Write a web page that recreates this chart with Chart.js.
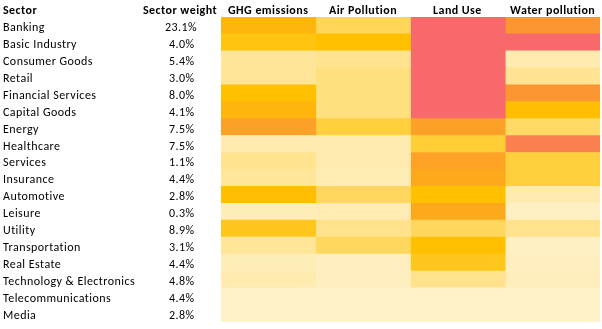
<!DOCTYPE html>
<html>
<head>
<meta charset="utf-8">
<script src="https://cdn.jsdelivr.net/npm/chart.js@4.4.1/dist/chart.umd.min.js"></script>
<style>
  html, body { margin: 0; padding: 0; background: #ffffff; }
  #wrap { width: 602px; height: 329px; position: relative; }
</style>
</head>
<body>
<div id="wrap"><canvas id="c" width="602" height="329"></canvas></div>
<script>
// ---- data ----
const sectors = ['Banking', 'Basic Industry', 'Consumer Goods', 'Retail', 'Financial Services',
  'Capital Goods', 'Energy', 'Healthcare', 'Services', 'Insurance', 'Automotive', 'Leisure',
  'Utility', 'Transportation', 'Real Estate', 'Technology & Electronics', 'Telecommunications', 'Media'];
const weights = ['23.1%', '4.0%', '5.4%', '3.0%', '8.0%', '4.1%', '7.5%', '7.5%', '1.1%',
  '4.4%', '2.8%', '0.3%', '8.9%', '3.1%', '4.4%', '4.8%', '4.4%', '2.8%'];
const impacts = ['GHG emissions', 'Air Pollution', 'Land Use', 'Water pollution'];
// impact intensity scores (0 = lowest, 100 = highest)
const ghg   = [56, 46, 13, 13, 50, 56, 68, 7, 15, 12, 51, 5, 43, 13, 5, 7, 1, 1];
const air   = [28, 50, 15, 19, 19, 19, 35, 7, 7, 6, 27, 6, 16, 27, 3, 3, 1, 1];
const land  = [100, 100, 100, 100, 100, 100, 68, 37, 67, 63, 50, 63, 27, 50, 43, 16, 1, 1];
const water = [74, 100, 7, 14, 74, 51, 25, 87, 35, 35, 7, 2, 16, 2, 3, 4, 1, 1];
const scoreSeries = [ghg, air, land, water];

// ---- colour scale ----
function heatColor(s) {
  const stops = [[0, [255, 242, 204]], [50, [255, 192, 0]], [100, [248, 105, 107]]];
  let a = stops[0], b = stops[1];
  if (s > 50) { a = stops[1]; b = stops[2]; }
  const t = (s - a[0]) / (b[0] - a[0]);
  const c = a[1].map((v, i) => Math.round(v + (b[1][i] - v) * t));
  return 'rgb(' + c.join(',') + ')';
}

const FONT_FAMILY = "Carlito, Lato, 'Liberation Sans', sans-serif";
const FONT_SIZE = 12;
const LETTER_SPACING = '0.45px';

const datasets = scoreSeries.map((scores, k) => ({
  label: impacts[k],
  data: scores.map(() => 1),
  backgroundColor: scores.map(heatColor),
  borderWidth: 0,
  barPercentage: 1,
  categoryPercentage: 1
}));

const spacingPlugin = {
  id: 'spacing',
  beforeLayout(chart) { chart.ctx.letterSpacing = LETTER_SPACING; },
  beforeDraw(chart) { chart.ctx.letterSpacing = LETTER_SPACING; }
};

function centeredText(ctx, text, cx, cy) {
  const w = ctx.measureText(text).width;
  ctx.textAlign = 'left';
  ctx.fillText(text, Math.round(cx - w / 2), cy);
}

const textPlugin = {
  id: 'tableText',
  afterDraw(chart) {
    const ctx = chart.ctx;
    const y = chart.scales.y;
    const x = chart.scales.x;
    const area = chart.chartArea;
    const wx = area.left - 39.5;
    ctx.save();
    ctx.letterSpacing = LETTER_SPACING;
    ctx.fillStyle = '#000';
    ctx.textBaseline = 'middle';
    // column headers
    ctx.font = 'bold ' + FONT_SIZE + 'px ' + FONT_FAMILY;
    const hy = x.bottom - 6.5;
    ctx.textAlign = 'left';
    ctx.fillText('Sector', 3, hy);
    centeredText(ctx, 'Sector weight', wx - 1, hy);
    impacts.forEach((name, i) => {
      centeredText(ctx, name, x.getPixelForValue(i + 0.5), hy);
    });
    // weights
    ctx.font = FONT_SIZE + 'px ' + FONT_FAMILY;
    weights.forEach((w, i) => {
      centeredText(ctx, w, wx, y.getPixelForValue(i) + 2.5);
    });
    ctx.restore();
  }
};

new Chart(document.getElementById('c'), {
  type: 'bar',
  data: { labels: sectors, datasets },
  options: {
    indexAxis: 'y',
    responsive: false,
    animation: false,
    devicePixelRatio: 1,
    layout: { padding: { left: 3, right: 2, top: 0, bottom: 2 } },
    plugins: { legend: { display: false }, tooltip: { enabled: false } },
    scales: {
      x: {
        type: 'linear',
        position: 'top',
        stacked: true,
        min: 0,
        max: impacts.length,
        grid: { display: false },
        border: { display: false },
        ticks: { display: false },
        afterFit: (s) => { s.height = 17; }
      },
      y: {
        type: 'category',
        stacked: true,
        grid: { display: false },
        border: { display: false },
        afterFit: (s) => { s.width = 218; },
        ticks: {
          crossAlign: 'far',
          autoSkip: false,
          padding: 0,
          labelOffset: 2.5,
          color: '#000',
          font: { family: FONT_FAMILY, size: FONT_SIZE }
        }
      }
    }
  },
  plugins: [spacingPlugin, textPlugin]
});
</script>
</body>
</html>
